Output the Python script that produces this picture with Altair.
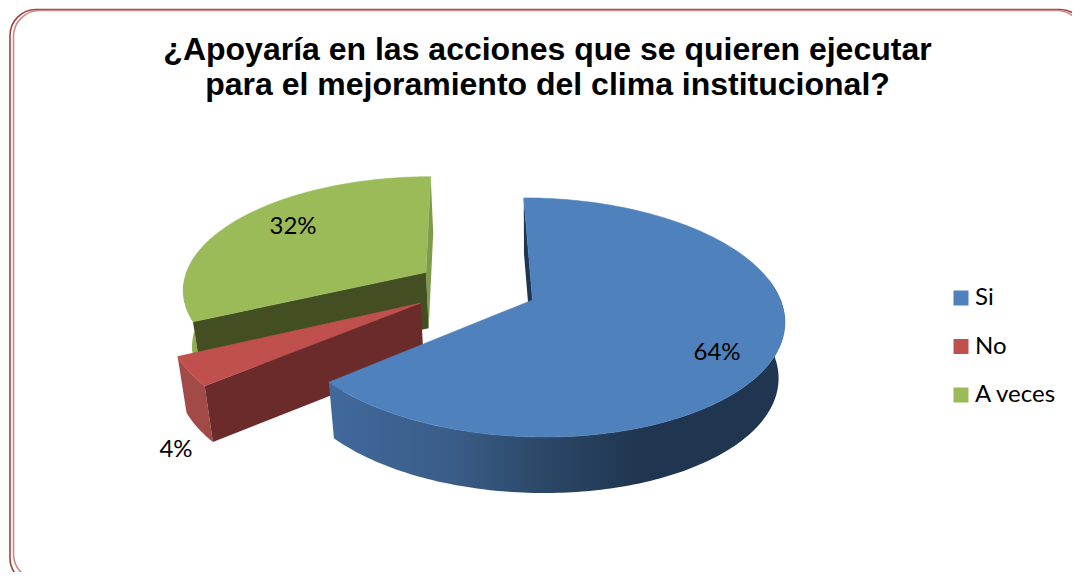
import math
import altair as alt
import pandas as pd

# ---- chart values ----
categories = ["Si", "No", "A veces"]
shares = [64, 4, 32]
colors = ["#4f81bd", "#c0504d", "#9bbb59"]
title_lines = ["¿Apoyaría en las acciones que se quieren ejecutar",
               "para el mejoramiento del clima institucional?"]

# ---- view settings of the 3-D pie (camera, not data) ----
CX, CY, RX, RY, PERSP, SKEW = 532.5, 300, 248, 117, 0.146, 10
DEPTH, BOTTOM_SHRINK = 56, 0.975
explode = {"Si": (0, 0), "No": (-0.45, 0.026), "A veces": (-0.435, -0.245)}
label_pos = {"Si": (717, 353), "No": (176, 450), "A veces": (293, 227)}

W, H = 1064, 564
xs = alt.Scale(domain=[8, 8 + W])
ys = alt.Scale(domain=[8 + H, 8])


def project(u, v, low=False):
    w = 1 - PERSP * v
    x = CX + (RX * u + SKEW * v) / w
    y = CY + RY * v / w
    if low:
        x = CX + BOTTOM_SHRINK * (x - CX)
        y = y + DEPTH
    return x, y


def rim(off, a0, a1):
    n = max(2, int(abs(a1 - a0)) + 1)
    return [(off[0] + math.sin(math.radians(a0 + (a1 - a0) * i / (n - 1))),
             off[1] - math.cos(math.radians(a0 + (a1 - a0) * i / (n - 1)))) for i in range(n)]


def frame(points):
    return pd.DataFrame([{"seq": i, "x": p[0], "y": p[1]} for i, p in enumerate(points)])


def top_face(off, a0, a1):
    return frame([project(*off)] + [project(*p) for p in rim(off, a0, a1)])


def outer_wall(off, a0, a1):
    arc = rim(off, a0, a1)
    return frame([project(*p) for p in arc] + [project(*p, low=True) for p in reversed(arc)])


def cut_wall(off, a):
    c = rim(off, a, a)[0]
    return frame([project(*off), project(*c), project(*c, low=True), project(*off, low=True)])


def poly(df, fill, stroke=None):
    return alt.Chart(df).mark_line(
        interpolate="linear-closed", fill=fill, stroke=stroke or "transparent",
        strokeWidth=0.6 if stroke else 0
    ).encode(
        x=alt.X("x:Q", scale=xs, axis=None),
        y=alt.Y("y:Q", scale=ys, axis=None),
        order=alt.Order("seq:Q"),
    )


# slice angles, clockwise from twelve o'clock
a = [0]
for s in shares:
    a.append(a[-1] + s * 3.6)
si0, si1 = a[0], a[1]
no0, no1 = a[1], a[2]
av0, av1 = a[2], a[3]
oS, oN, oA = explode["Si"], explode["No"], explode["A veces"]

blue_grad = alt.Gradient(
    gradient="linear", x1=0, x2=1, y1=0, y2=0,
    stops=[alt.GradientStop(offset=0, color="#41699c"),
           alt.GradientStop(offset=0.27, color="#3a5c88"),
           alt.GradientStop(offset=0.48, color="#2b4766"),
           alt.GradientStop(offset=0.69, color="#1f3550"),
           alt.GradientStop(offset=1, color="#1f3550")],
)

layers = [
    # green piece
    poly(outer_wall(oA, av0, av0 + 45), "#8fae52"),
    poly(cut_wall(oA, av1), "#7e9b4a"),
    poly(cut_wall(oA, av0), "#434f23"),
    poly(top_face(oA, av0, av1), colors[2], colors[2]),
    # red piece
    poly(outer_wall(oN, no0, no1), "#a14a47"),
    poly(cut_wall(oN, no0), "#6b2b2a"),
    poly(top_face(oN, no0, no1), colors[1], colors[1]),
    # blue piece
    poly(cut_wall(oS, si0), "#1f3550"),
    poly(outer_wall(oS, 80, si1), blue_grad),
    poly(top_face(oS, si0, si1), colors[0], colors[0]),
]

# percentage labels
lab = pd.DataFrame({
    "x": [label_pos[c][0] for c in categories],
    "y": [label_pos[c][1] for c in categories],
    "t": [f"{s}%" for s in shares],
})
labels = alt.Chart(lab).mark_text(font="Lato", fontSize=24, color="#000000").encode(
    x=alt.X("x:Q", scale=xs, axis=None), y=alt.Y("y:Q", scale=ys, axis=None), text="t:N")

# legend
leg_df = pd.DataFrame({"cat": categories, "x": [20, 20, 20], "y": [20, 20, 20]})
legend = alt.Chart(leg_df).mark_square(size=0, opacity=0).encode(
    x=alt.X("x:Q", scale=xs, axis=None), y=alt.Y("y:Q", scale=ys, axis=None),
    color=alt.Color("cat:N", scale=alt.Scale(domain=categories, range=colors),
                    legend=alt.Legend(orient="none", legendX=941, legendY=278, title=None,
                                      symbolType="square", symbolSize=225, symbolOpacity=1,
                                      symbolStrokeWidth=0, labelFont="Lato", labelFontSize=24,
                                      labelColor="#000000", rowPadding=24.5, labelOffset=2,
                                      padding=0)),
)

# frame: two rounded outlines running off the page
fr = pd.DataFrame({"x0": [10, 13.5], "x1": [1086, 1083], "y0": [9.5, 10.5], "y1": [584, 580],
                   "c": ["#a5403e", "#c98a88"]})
frames = alt.Chart(fr).mark_rect(cornerRadius=26, fillOpacity=0, strokeWidth=1.6, filled=False).encode(
    x=alt.X("x0:Q", scale=xs, axis=None), x2="x1:Q",
    y=alt.Y("y0:Q", scale=ys, axis=None), y2="y1:Q",
    stroke=alt.Stroke("c:N", scale=None, legend=None),
)

chart = alt.layer(frames, *layers, labels, legend).properties(
    width=W, height=H, padding=0,
    autosize=alt.AutoSizeParams(type="none"),
    title=alt.TitleParams(title_lines, font="Liberation Sans", fontSize=32, fontWeight="bold",
                          color="#000000", anchor="middle", lineHeight=35, dy=94, dx=7.5, offset=0),
).configure_view(stroke=None)

chart.save("out.html", embed_options={"renderer": "svg", "actions": False})
